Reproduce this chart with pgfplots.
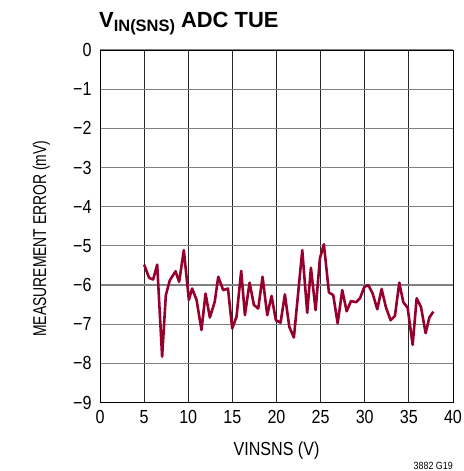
\documentclass[border=0pt]{standalone}
\usepackage{fontspec}
\setmainfont[FakeStretch=0.85]{Liberation Sans}
\newfontfamily\titlefont{Liberation Sans}
\newfontfamily\ylabfont[FakeStretch=0.75]{Liberation Sans}
\usepackage{pgfplots}
\pgfplotsset{compat=1.18}
\definecolor{ltred}{RGB}{150,0,45}
\begin{document}
\begin{tikzpicture}
\useasboundingbox (0,0) rectangle (464bp,471bp);
\begin{axis}[
  at={(100bp,68.5bp)}, anchor=south west,
  scale only axis, width=353bp, height=352.5bp,
  xmin=0, xmax=40, ymin=-9, ymax=0,
  xtick={0,5,...,40},
  ytick={-9,-8,-7,-6,-5,-4,-3,-2,-1,0},
  yticklabels={−9,−8,−7,−6,−5,−4,−3,−2,−1,0},
  major tick length=0,
  grid=major,
  x grid style={black!85, line width=0.9bp},
  y grid style={black!50, line width=1.1bp},
  axis line style={black, line width=1bp},
  tick label style={font=\fontsize{19}{19}\selectfont},
  xticklabel style={yshift=-4bp},
  yticklabel style={xshift=-5bp},
  /pgf/number format/assume math mode=true,
  xlabel={VINSNS (V)},
  every axis x label/.style={at={(axis description cs:0.5,0)}, anchor=base, yshift=-52.5bp, font=\fontsize{19}{19}\selectfont},
  ylabel={MEASUREMENT ERROR (mV)},
  every axis y label/.style={at={([xshift=-54bp]axis description cs:0,0.465)}, rotate=90, anchor=base, font=\ylabfont\fontsize{18.6}{18.6}\selectfont},
  clip=false,
]
\addplot[ltred, line width=2.6bp, line join=round] coordinates {
(5.0,-5.48) (5.57,-5.82) (6.02,-5.86) (6.48,-5.48) (7.04,-7.83) (7.46,-6.26)
(7.91,-5.88) (8.56,-5.65) (8.97,-5.92) (9.5,-5.11) (10.07,-6.38) (10.44,-6.09)
(10.94,-6.38) (11.5,-7.15) (11.96,-6.22) (12.45,-6.83) (13.0,-6.43) (13.4,-5.79)
(13.96,-6.13) (14.5,-6.09) (14.98,-7.11) (15.47,-6.81) (16.0,-5.64) (16.42,-6.77)
(16.95,-5.94) (17.44,-6.51) (17.93,-6.6) (18.42,-5.79) (18.95,-6.77) (19.44,-6.28)
(19.93,-6.9) (20.46,-6.96) (20.95,-6.24) (21.45,-7.07) (21.97,-7.34) (22.92,-5.11)
(23.48,-6.71) (23.9,-5.56) (24.43,-6.64) (24.92,-5.32) (25.37,-4.96) (25.94,-6.19)
(26.43,-6.26) (26.93,-6.98) (27.45,-6.13) (27.95,-6.67) (28.44,-6.41) (29.0,-6.44)
(29.46,-6.34) (29.95,-6.05) (30.4,-6.0) (30.9,-6.22) (31.42,-6.62) (31.91,-6.1)
(32.4,-6.57) (32.93,-6.9) (33.42,-6.79) (33.91,-5.94) (34.37,-6.44) (34.86,-6.58)
(35.43,-7.53) (35.88,-6.34) (36.37,-6.56) (36.9,-7.23) (37.32,-6.83) (37.77,-6.68)
};
\end{axis}
\node[anchor=base west, inner sep=0pt] at (99bp,443bp) {\titlefont\bfseries\fontsize{22}{22}\selectfont V\raisebox{-4bp}{\fontsize{16.5}{16.5}\selectfont IN(SNS)} ADC TUE};
\node[anchor=base east, inner sep=0pt] at (453bp,2bp) {\fontsize{10.5}{10.5}\selectfont 3882 G19};
\end{tikzpicture}
\end{document}
